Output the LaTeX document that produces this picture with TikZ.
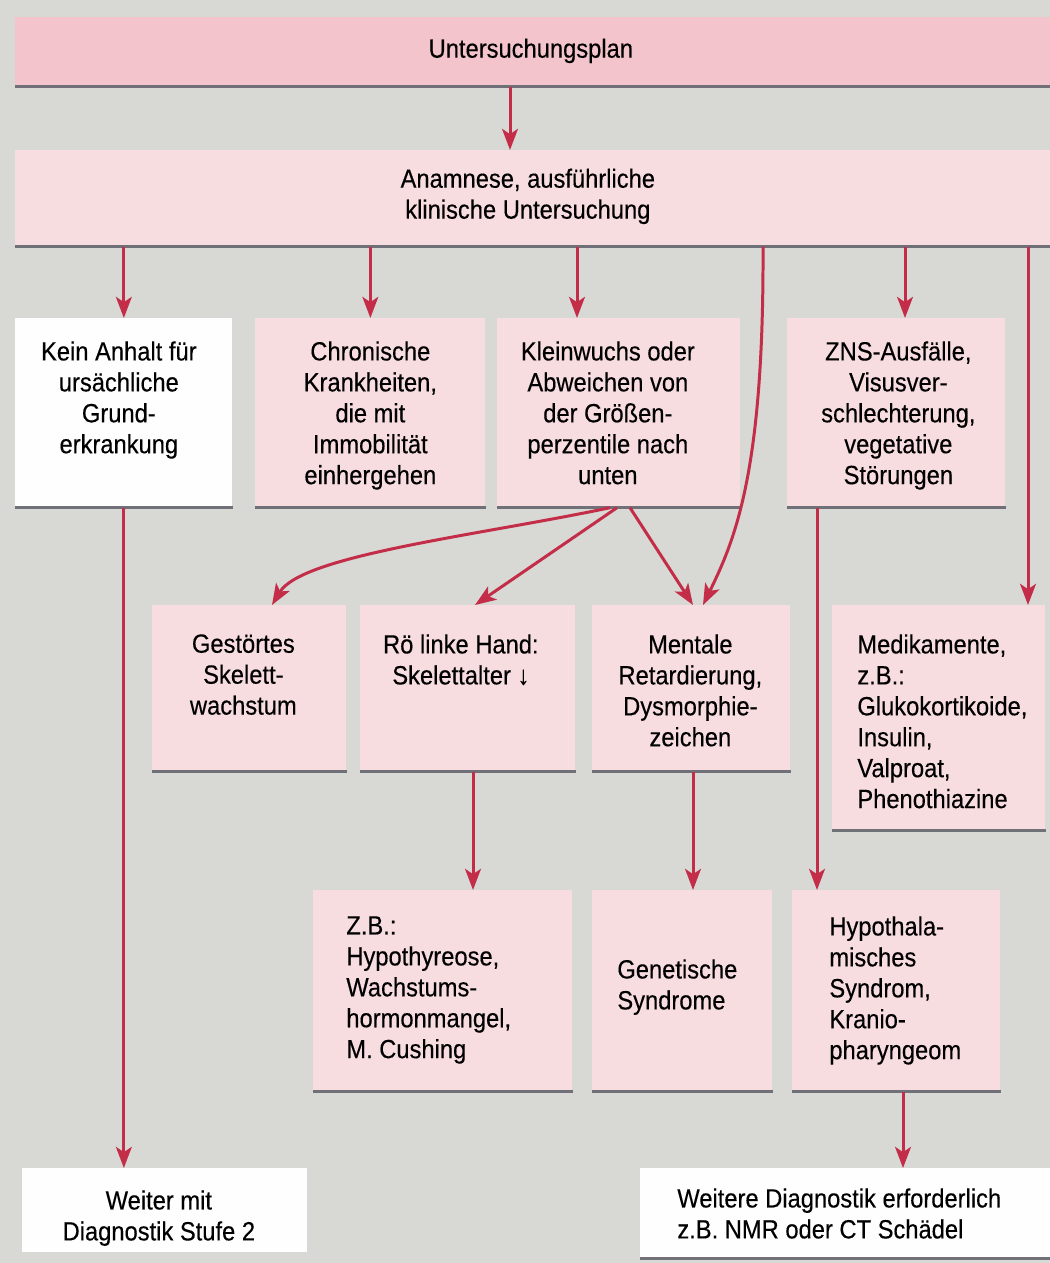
\documentclass[tikz,border=0pt]{standalone}
\usepackage{fontspec}
\setmainfont{Liberation Sans}[FakeStretch=0.9, FakeBold=0.3]
\usetikzlibrary{arrows,arrows.meta}
\usetikzlibrary{calc,positioning}
\definecolor{papier}{RGB}{216,216,213}
\definecolor{rosa}{RGB}{243,196,203}
\definecolor{rosahell}{RGB}{248,221,224}
\definecolor{pfeilrot}{RGB}{196,45,72}
\definecolor{kante}{RGB}{112,112,120}
\colorlet{weiss}{white!97!papier}

\tikzset{
    kasten/.style 2 args={fill=rosahell, inner sep=0pt, anchor=north west, minimum width=#1*0.02cm, minimum height=#2*0.02cm},
    txt/.style={inner sep=0pt, align=center, anchor=north, font=\fontsize{15}{17.6}\selectfont},
    txtl/.style={txt, align=left, anchor=north west},
    pfeil/.style={pfeilrot, line width=1.7pt, -{Stealth[length=12pt,width=9pt,inset=3pt]}},
    kantenlinie/.style={kante, line width=1.6pt}
}

\begin{document}
\begin{tikzpicture}[x=0.02cm, y=-0.02cm]

    \fill[papier] (0,0) rectangle (1050,1263);
    \useasboundingbox (0,0) rectangle (1050,1263);

    % obere Baender
    \node[kasten={1035}{69}, fill=rosa] (plan) at (15,17) {};
    \node[kasten={1035}{96}] (anam) at (15,150) {};

    % erste Reihe
    \node[kasten={217}{189}, fill=weiss] (kein) at (15,318) {};
    \node[kasten={230}{189}] (chron) at (255,318) {};
    \node[kasten={243}{189}] (klein) at (497,318) {};
    \node[kasten={218}{189}] (zns) at (787,318) {};

    % zweite Reihe
    \node[kasten={194}{166}] (skel) at (152,605) {};
    \node[kasten={215}{166}] (roe) at (360,605) {};
    \node[kasten={198}{166}] (ment) at (592,605) {};
    \node[kasten={213}{225}] (medi) at (832,605) {};

    % dritte Reihe
    \node[kasten={259}{201}] (zb) at (313,890) {};
    \node[kasten={180}{201}] (gen) at (592,890) {};
    \node[kasten={208}{201}] (hypo) at (792,890) {};

    % Ausgaenge
    \node[kasten={285}{84}, fill=weiss] (weiter) at (22,1168) {};
    \node[kasten={410}{90}, fill=weiss] (weitere) at (640,1168) {};

    \foreach \k in {plan,anam,kein,chron,klein,zns,skel,roe,ment,medi,zb,gen,hypo,weitere}
        \draw[kantenlinie] (\k.south west) -- (\k.south east);

    \node[txt, anchor=center] (planT) at ($(plan.center)+(-2,-1)$) {Untersuchungsplan};
    \node[txt, anchor=center] (anamT) at ($(anam.center)+(-5,-2)$) {Anamnese, ausführliche\\klinische Untersuchung};

    \node[txt] (keinT) at ($(kein.north)+(-5,23)$) {Kein Anhalt für\\ursächliche\\Grund-\\erkrankung};
    \node[txt] (chronT) at ($(chron.north)+(0,23)$) {Chronische\\Krankheiten,\\die mit\\Immobilität\\einhergehen};
    \node[txt] (kleinT) at ($(klein.north)+(-11,23)$) {Kleinwuchs oder\\Abweichen von\\der Größen-\\perzentile nach\\unten};
    \node[txt] (znsT) at ($(zns.north)+(2,23)$) {ZNS-Ausfälle,\\Visusver-\\schlechterung,\\vegetative\\Störungen};

    \node[txt] (skelT) at ($(skel.north)+(-6,29)$) {Gestörtes\\Skelett-\\wachstum};
    \node[txt] (roeT) at ($(roe.north)+(-7,29)$) {Rö linke Hand:\\Skelettalter ↓};
    \node[txt] (mentT) at ($(ment.north)+(-1,29)$) {Mentale\\Retardierung,\\Dysmorphie-\\zeichen};
    \node[txtl] (mediT) at ($(medi.north west)+(25,29)$) {Medikamente,\\z.B.:\\Glukokortikoide,\\Insulin,\\Valproat,\\Phenothiazine};

    \node[txtl] (zbT) at ($(zb.north west)+(33,26)$) {Z.B.:\\Hypothyreose,\\Wachstums-\\hormonmangel,\\M. Cushing};
    \node[txtl] (genT) at ($(gen.north west)+(25,69)$) {Genetische\\Syndrome};
    \node[txtl] (hypoT) at ($(hypo.north west)+(37,26)$) {Hypothala-\\misches\\Syndrom,\\Kranio-\\pharyngeom};

    \node[txt] (weiterT) at ($(weiter.north)+(-6,22)$) {Weiter mit\\Diagnostik Stufe 2};
    \node[txtl] (weitereT) at ($(weitere.north west)+(37,20)$) {Weitere Diagnostik erforderlich\\z.B. NMR oder CT Schädel};

    % Eingaenge und Ausgaenge der Pfeile
    \coordinate (planOut) at ($(plan.south west)+(495,0)$);
    \coordinate (kleinIn) at ($(klein.north west)+(80,0)$);
    \coordinate (znsIn) at ($(zns.north west)+(118,0)$);
    \coordinate (mediIn) at ($(medi.north west)+(196,0)$);
    \coordinate (bogen) at ($(anam.south west)+(748,0)$);
    \coordinate (znsOut) at ($(zns.south west)+(30,0)$);
    \coordinate (roeOut) at ($(roe.south west)+(113,0)$);
    \coordinate (mentOut) at ($(ment.south west)+(101,0)$);
    \coordinate (hypoOut) at ($(hypo.south west)+(111,0)$);

    \draw[pfeil] (planOut) -- (planOut |- anam.north);
    \draw[pfeil] (kein.north |- anam.south) -- (kein.north);
    \draw[pfeil] (chron.north |- anam.south) -- (chron.north);
    \draw[pfeil] (kleinIn |- anam.south) -- (kleinIn);
    \draw[pfeil] (znsIn |- anam.south) -- (znsIn);
    \draw[pfeil] (mediIn |- anam.south) -- (mediIn);
    \draw[pfeil] (bogen) .. controls ($(bogen)+(1,225)$) and ($(bogen)+(-28,293)$) .. ($(ment.north west)+(111,0)$);

    \draw[pfeil] ($(klein.south west)+(113,0)$) .. controls ($(klein.south west)+(-20,28)$) and ($(skel.north west)+(150,-50)$) .. ($(skel.north west)+(120,0)$);
    \draw[pfeil] ($(klein.south west)+(120,0)$) -- ($(roe.north west)+(115,0)$);
    \draw[pfeil] ($(klein.south west)+(133,0)$) -- ($(ment.north west)+(101,0)$);

    \draw[pfeil] (kein.south) -- (kein.south |- weiter.north);
    \draw[pfeil] (znsOut) -- (znsOut |- hypo.north);
    \draw[pfeil] (roeOut) -- (roeOut |- zb.north);
    \draw[pfeil] (mentOut) -- (mentOut |- gen.north);
    \draw[pfeil] (hypoOut) -- (hypoOut |- weitere.north);

\end{tikzpicture}
\end{document}
